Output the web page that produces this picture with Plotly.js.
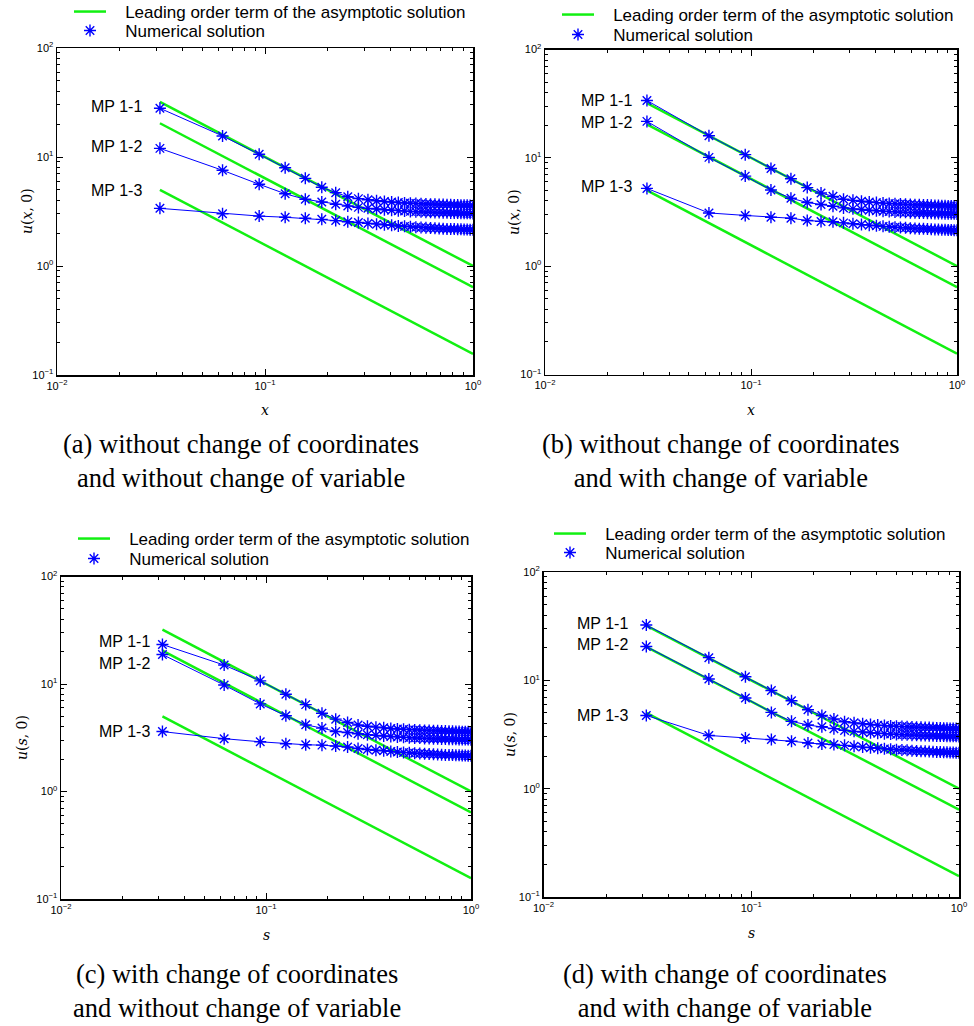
<!DOCTYPE html>
<html>
<head>
<meta charset="utf-8">
<script src="https://cdn.plot.ly/plotly-3.0.1.min.js"></script>
<style>html,body{margin:0;padding:0;background:#fff;}#chart{width:974px;height:1026px;}</style>
</head>
<body>
<div id="chart"></div>
<script>
// grid points (x = k/32, k = 1..32)
const xGrid = [0.03125,0.0625,0.09375,0.125,0.15625,0.1875,0.21875,0.25,0.28125,0.3125,0.34375,0.375,
  0.40625,0.4375,0.46875,0.5,0.53125,0.5625,0.59375,0.625,0.65625,0.6875,0.71875,0.75,
  0.78125,0.8125,0.84375,0.875,0.90625,0.9375,0.96875,1.0];

// leading order term (straight lines on log-log), endpoints
const greenX = [0.03125, 1.0];
const green1 = [32.0, 1.0];
const green2 = [20.4, 0.64];
const green3 = [5.0, 0.156];

// numerical solution: first 8 points per panel
const headA1 = [28.0, 15.6, 10.6, 7.98, 6.37, 5.27, 4.71, 4.32];
const headA2 = [12.0, 7.55, 5.62, 4.60, 4.09, 3.87, 3.68, 3.55];
const headA3 = [3.38, 3.02, 2.87, 2.80, 2.74, 2.68, 2.61, 2.55];
const headB1 = [33.8, 16.0, 10.7, 7.98, 6.41, 5.31, 4.73, 4.41];
const headB2 = [21.7, 10.1, 6.78, 5.05, 4.24, 3.87, 3.71, 3.57];
const headB3 = [5.22, 3.10, 2.94, 2.83, 2.77, 2.64, 2.59, 2.57];
const headC1 = [23.3, 15.0, 10.7, 8.03, 6.43, 5.35, 4.71, 4.38];
const headC2 = [18.8, 9.78, 6.53, 5.06, 4.17, 3.89, 3.62, 3.54];
const headC3 = [3.61, 3.10, 2.90, 2.78, 2.72, 2.70, 2.65, 2.59];
const headD1 = [32.4, 16.2, 10.8, 8.05, 6.47, 5.35, 4.74, 4.40];
const headD2 = [20.5, 10.3, 6.86, 5.06, 4.18, 3.87, 3.73, 3.58];
const headD3 = [4.74, 3.10, 2.94, 2.84, 2.74, 2.64, 2.59, 2.56];

// numerical solution: remaining points (k = 9..32), common plateau
const tail1 = [4.15,4.05,3.97,3.91,3.86,3.82,3.79,3.76,3.74,3.72,3.70,3.69,3.68,3.67,3.66,3.65,3.64,3.63,3.62,3.61,3.60,3.60,3.59,3.58];
const tail2 = [3.45,3.38,3.33,3.28,3.25,3.22,3.19,3.17,3.15,3.14,3.12,3.11,3.10,3.09,3.08,3.08,3.07,3.06,3.06,3.05,3.05,3.04,3.04,3.03];
const tail3 = [2.51,2.46,2.42,2.39,2.36,2.33,2.31,2.29,2.27,2.26,2.24,2.23,2.22,2.21,2.20,2.19,2.18,2.18,2.17,2.17,2.16,2.16,2.15,2.15];

const mpLabels = ['MP 1-1', 'MP 1-2', 'MP 1-3'];
const legendNames = ['Leading order term of the asymptotic solution', 'Numerical solution'];
const captions = [
  '(a) without change of coordinates<br>and without change of variable',
  '(b) without change of coordinates<br>and with change of variable',
  '(c) with change of coordinates<br>and without change of variable',
  '(d) with change of coordinates<br>and with change of variable'
];
const yTitles = ['<i>u</i>(<i>x</i>, 0)', '<i>u</i>(<i>x</i>, 0)', '<i>u</i>(<i>s</i>, 0)', '<i>u</i>(<i>s</i>, 0)'];
const xTitles = ['<i>x</i>', '<i>x</i>', '<i>s</i>', '<i>s</i>'];
const xTickVals = [0.01, 0.1, 1];
const xTickText = ['10<sup>−2</sup>', '10<sup>−1</sup>', '10<sup>0</sup>'];
const yTickVals = [0.1, 1, 10, 100];
const yTickText = ['10<sup>−1</sup>', '10<sup>0</sup>', '10<sup>1</sup>', '10<sup>2</sup>'];

const W = 974, H = 1026;
// panel boxes in pixels: [left, top, right, bottom]
const boxes = [[57, 48, 473, 375], [545, 49.5, 957, 374.5], [61, 576.5, 471, 899], [543.5, 572, 959, 897]];
// MP label positions (right edge x, center y) per panel
const mpPos = [
  [[144, 106], [144, 146], [144, 191]],
  [[634, 100], [634, 122], [634, 187]],
  [[152, 641], [152, 663], [152, 731]],
  [[630, 623], [630, 644], [630, 715]]
];
// legend: [line start x, row1 center y, row2 center y]
const legendPos = [[78, 12, 31], [566, 15, 35], [82, 539, 559], [558, 534, 553]];
const captionPos = [[241, 461], [721, 461], [237, 991], [725, 991]];
const yTitlePos = [[27, 211], [514, 212], [22, 738], [510, 735]];
const xTitlePos = [[265, 410], [751, 410], [266, 935], [751, 933]];

const heads = [[headA1, headA2, headA3], [headB1, headB2, headB3], [headC1, headC2, headC3], [headD1, headD2, headD3]];
const tails = [tail1, tail2, tail3];
const greens = [green1, green2, green3];

const GREEN = '#12f012';
const BLUE = '#0000ff';
const PAD = '\u00a0\u00a0\u00a0';

function minorVals(lo, hi) {
  const v = [];
  for (let e = lo; e < hi; e++) for (let d = 2; d <= 9; d++) v.push(d * Math.pow(10, e));
  return v;
}
function legName(i) { return i === 1 ? 'legend' : 'legend' + i; }

const traces = [];
const layout = {
  width: W, height: H, margin: {l: 0, r: 0, t: 0, b: 0, autoexpand: false},
  paper_bgcolor: '#fff', plot_bgcolor: '#fff', showlegend: true,
  annotations: [], font: {family: 'Liberation Sans, Arial, sans-serif', color: '#000'}
};

for (let p = 0; p < 4; p++) {
  const sfx = p === 0 ? '' : String(p + 1);
  const xa = 'x' + sfx, ya = 'y' + sfx;
  const lgA = legName(2 * p + 1), lgB = legName(2 * p + 2);
  const b = boxes[p];
  const axCommon = {
    type: 'log', showgrid: false, zeroline: false, showline: true, linecolor: '#000', linewidth: 1.5,
    mirror: 'allticks', ticks: 'inside', ticklen: 6, tickwidth: 1, tickcolor: '#000',
    tickmode: 'array', tickfont: {family: 'Liberation Sans, Arial, sans-serif', size: 11, color: '#000'},
    minor: {ticks: 'inside', ticklen: 3, tickwidth: 1, tickcolor: '#000', showgrid: false, tickmode: 'array'}
  };
  layout['xaxis' + sfx] = Object.assign({}, axCommon, {
    domain: [b[0] / W, b[2] / W], anchor: ya, range: [-2, 0],
    tickvals: xTickVals, ticktext: xTickText,
    minor: Object.assign({}, axCommon.minor, {tickvals: minorVals(-2, 0)})
  });
  layout['yaxis' + sfx] = Object.assign({}, axCommon, {
    domain: [1 - b[3] / H, 1 - b[1] / H], anchor: xa, range: [-1, 2],
    tickvals: yTickVals, ticktext: yTickText,
    minor: Object.assign({}, axCommon.minor, {tickvals: minorVals(-1, 2)})
  });
  const lp = legendPos[p];
  [[lgA, lp[1]], [lgB, lp[2]]].forEach(function (e) {
    layout[e[0]] = {
      x: (lp[0] - 9) / W, y: 1 - e[1] / H, xanchor: 'left', yanchor: 'middle',
      xref: 'paper', yref: 'paper', bgcolor: 'rgba(0,0,0,0)', borderwidth: 0,
      font: {family: 'Liberation Sans, Arial, sans-serif', size: 17, color: '#000'},
      itemwidth: 32, tracegroupgap: 0, itemclick: false, itemdoubleclick: false
    };
  });

  for (let s = 0; s < 3; s++) {
    traces.push({
      type: 'scatter', mode: 'lines', x: greenX, y: greens[s], xaxis: xa, yaxis: ya,
      line: {color: GREEN, width: 2.5}, name: PAD + legendNames[0], legend: lgA,
      showlegend: s === 0, hoverinfo: 'skip'
    });
  }
  for (let s = 0; s < 3; s++) {
    const yv = heads[p][s].concat(tails[s]);
    traces.push({
      type: 'scatter', mode: 'lines', x: xGrid, y: yv, xaxis: xa, yaxis: ya,
      line: {color: BLUE, width: 1}, showlegend: false, hoverinfo: 'skip'
    });
    traces.push({
      type: 'scatter', mode: 'markers', x: xGrid, y: yv, xaxis: xa, yaxis: ya,
      marker: {symbol: 'asterisk-open', size: 10, color: BLUE, line: {color: BLUE, width: 1.4}},
      name: PAD + legendNames[1], legend: lgB, showlegend: s === 0, hoverinfo: 'skip'
    });
  }

  for (let s = 0; s < 3; s++) {
    layout.annotations.push({
      xref: 'paper', yref: 'paper', x: mpPos[p][s][0] / W, y: 1 - mpPos[p][s][1] / H,
      xanchor: 'right', yanchor: 'middle', showarrow: false, text: mpLabels[s],
      font: {family: 'Liberation Sans, Arial, sans-serif', size: 16, color: '#000'}
    });
  }
  layout.annotations.push({
    xref: 'paper', yref: 'paper', x: captionPos[p][0] / W, y: 1 - captionPos[p][1] / H,
    xanchor: 'center', yanchor: 'middle', showarrow: false, text: captions[p], align: 'center',
    font: {family: 'Liberation Serif, Times New Roman, serif', size: 26.5, color: '#000'}
  });
  layout.annotations.push({
    xref: 'paper', yref: 'paper', x: yTitlePos[p][0] / W, y: 1 - yTitlePos[p][1] / H,
    xanchor: 'center', yanchor: 'middle', showarrow: false, text: yTitles[p], textangle: -90,
    font: {family: 'DejaVu Serif, Liberation Serif, serif', size: 14, color: '#000'}
  });
  layout.annotations.push({
    xref: 'paper', yref: 'paper', x: xTitlePos[p][0] / W, y: 1 - xTitlePos[p][1] / H,
    xanchor: 'center', yanchor: 'middle', showarrow: false, text: xTitles[p],
    font: {family: 'DejaVu Serif, Liberation Serif, serif', size: 14, color: '#000'}
  });
}

Plotly.newPlot('chart', traces, layout, {staticPlot: true, displayModeBar: false});
</script>
</body>
</html>
